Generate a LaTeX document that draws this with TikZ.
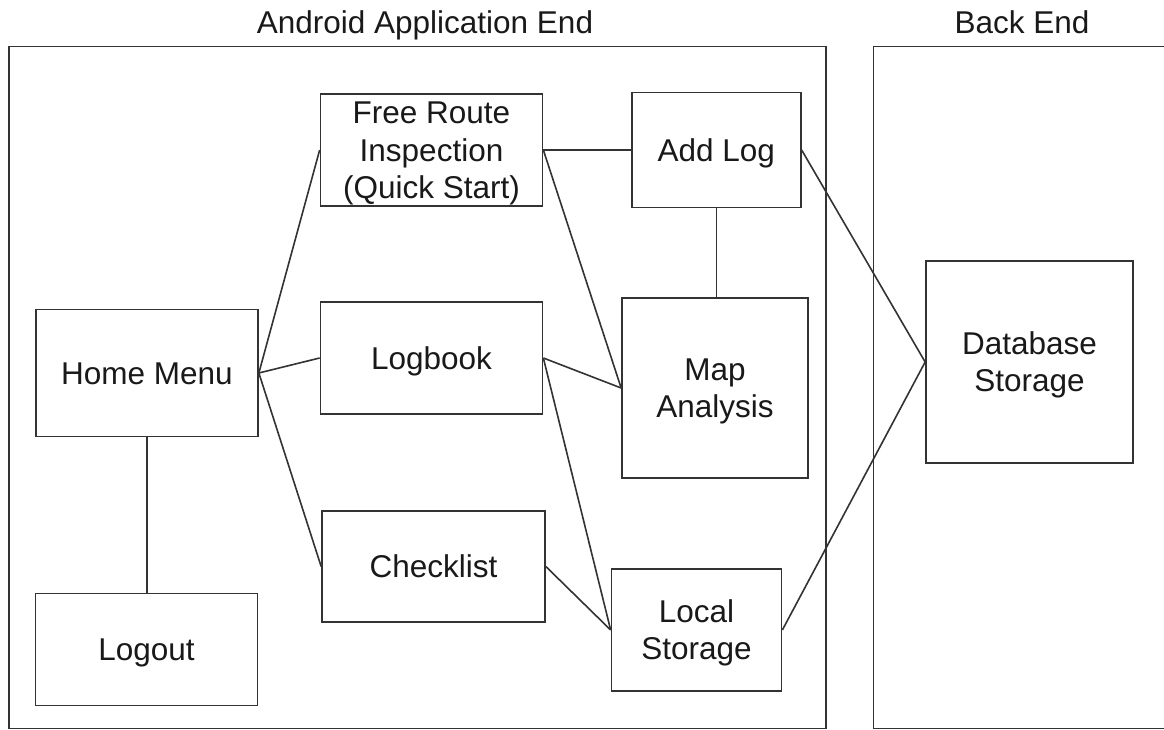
\documentclass[tikz,border=0pt]{standalone}
\usepackage{fontspec}
\setmainfont{Liberation Sans}
\begin{document}
\begin{tikzpicture}[x=1pt,y=-1pt,
  every node/.style={font=\fontsize{31.5}{37.5}\selectfont, text=black!90},
  frame/.style={draw=black!80, line width=1.7pt, rectangle, inner sep=0pt},
  block/.style={draw=black!80, line width=1.7pt, rectangle, inner sep=0pt,
    align=center, text depth=0pt, text height=22.4pt},
  twolines/.style={text height=59.9pt},
  threelines/.style={text height=97.4pt},
  link/.style={draw=black!80, line width=1.6pt},
  heading/.style={inner sep=0pt, anchor=base}]
\clip (0,0) rectangle (1164,730);
\fill[white] (0,0) rectangle (1164,730);

% outer frames
\node[frame, minimum width=817pt, minimum height=682pt] (android) at (417.5,387.5) {};
\node[frame, minimum width=320pt, minimum height=682pt] (backend) at (1033.5,387.5) {};
\node[heading] (androidtitle) at (425,33.5) {Android Application End};
\node[heading] (backtitle) at (1022,33.5) {Back End};

% blocks
\node[block, minimum width=222pt, minimum height=127pt] (home) at (147,373) {Home Menu};
\node[block, minimum width=222pt, minimum height=112pt] (logout) at (146.5,649.5) {Logout};
\node[block, threelines, minimum width=222pt, minimum height=112pt] (free) at (431.5,150) {Free Route\\Inspection\\(Quick Start)};
\node[block, minimum width=222pt, minimum height=112pt] (logbook) at (431.5,358) {Logbook};
\node[block, minimum width=223pt, minimum height=111pt] (checklist) at (433.5,566.5) {Checklist};
\node[block, minimum width=169pt, minimum height=115pt] (addlog) at (716.3,150) {Add Log};
\node[block, twolines, minimum width=186pt, minimum height=180pt] (map) at (715,388) {Map\\Analysis};
\node[block, twolines, minimum width=170pt, minimum height=122pt] (local) at (696.5,630) {Local\\Storage};
\node[block, twolines, minimum width=207pt, minimum height=202pt] (db) at (1029.5,362) {Database\\Storage};

% connectors
\draw[link] (home.east) -- (free.west);
\draw[link] (home.east) -- (logbook.west);
\draw[link] (home.east) -- (checklist.west);
\draw[link] (home.south) -- (home.south |- logout.north);
\draw[link] (free.east) -- (addlog.west);
\draw[link] (free.east) -- (map.west);
\draw[link] (logbook.east) -- (map.west);
\draw[link] (logbook.east) -- (local.west);
\draw[link] (checklist.east) -- (local.west);
\draw[link] (addlog.south) -- (addlog.south |- map.north);
\draw[link] (addlog.east) -- (db.west);
\draw[link] (local.east) -- (db.west);
\end{tikzpicture}
\end{document}
